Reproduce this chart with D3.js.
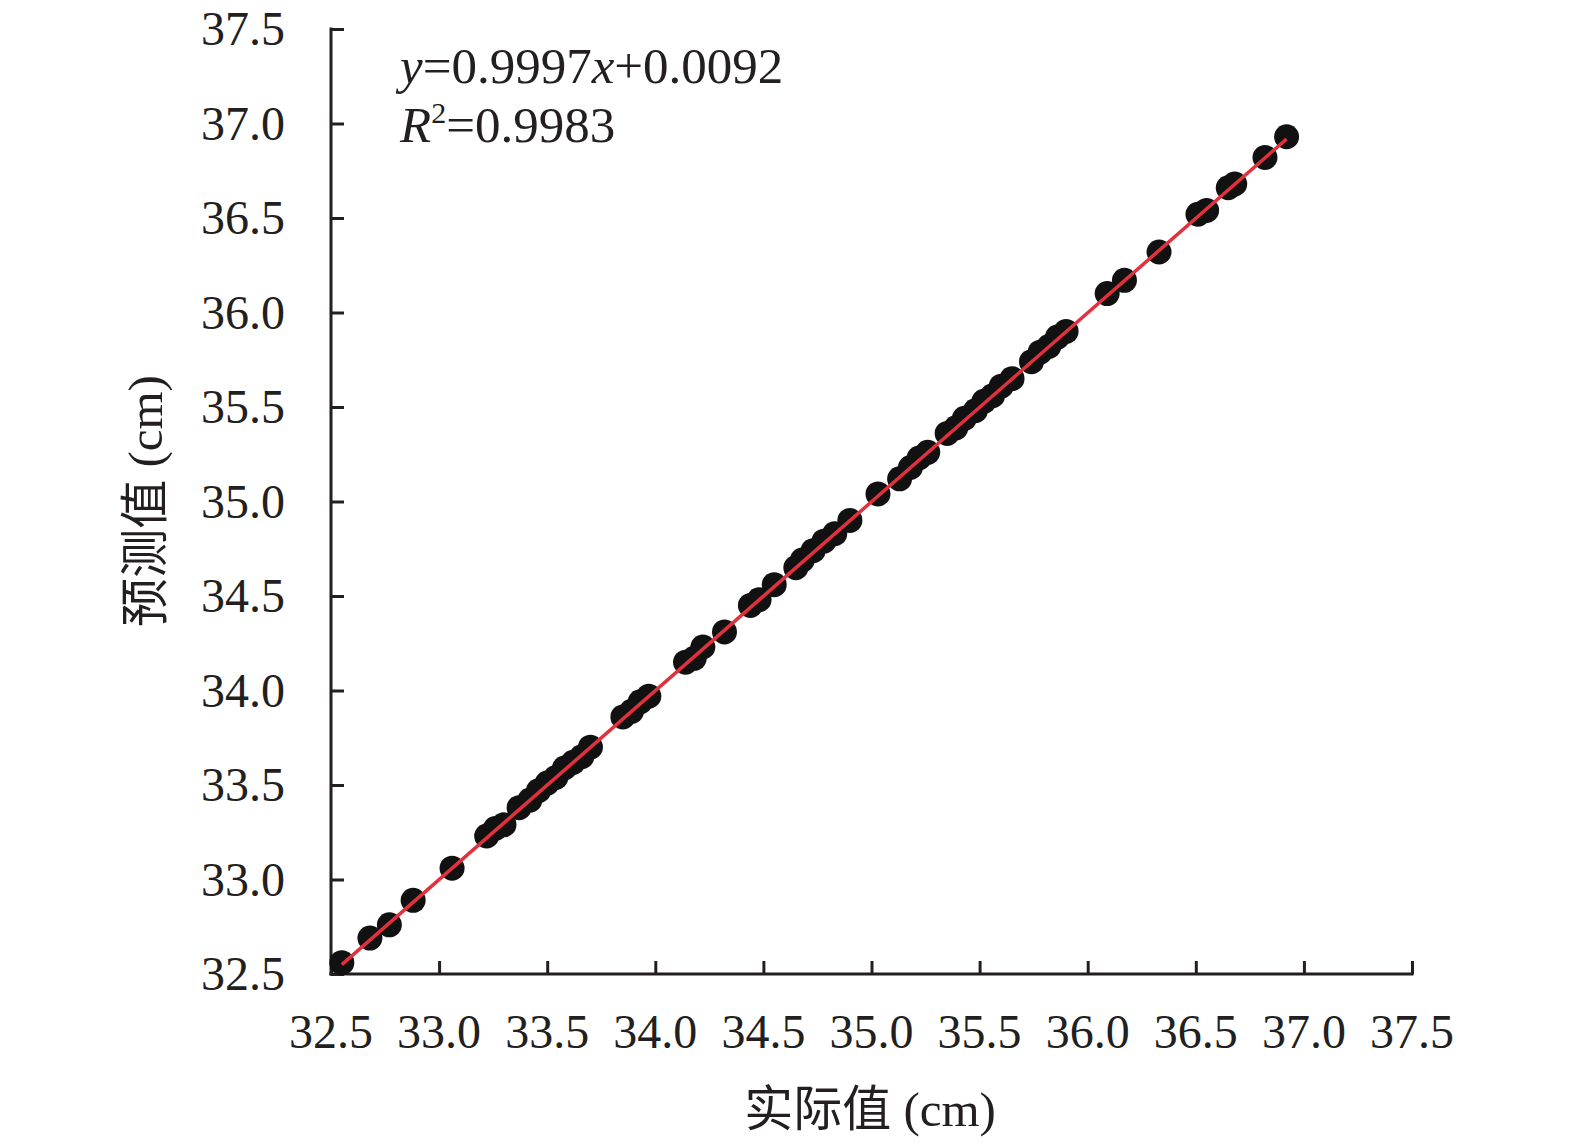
<!DOCTYPE html>
<html>
<head>
<meta charset="utf-8">
<script src="https://cdn.jsdelivr.net/npm/d3@7"></script>
<style>
  body { margin: 0; background: #fff; }
  text { font-family: "Times New Roman", "Liberation Serif", "Noto Sans CJK SC", serif; fill: #231f20; }
</style>
</head>
<body>
<div id="chart"></div>
<script>
const actual = [32.55, 32.68, 32.77, 32.88, 33.06, 33.22, 33.26, 33.30, 33.37, 33.42,
  33.46, 33.50, 33.54, 33.58, 33.62, 33.66, 33.70, 33.85, 33.89, 33.93,
  33.97, 34.14, 34.18, 34.22, 34.32, 34.44, 34.48, 34.55, 34.65, 34.68,
  34.73, 34.78, 34.83, 34.90, 35.03, 35.13, 35.18, 35.22, 35.26, 35.35,
  35.39, 35.43, 35.48, 35.52, 35.56, 35.60, 35.65, 35.74, 35.78, 35.82,
  35.86, 35.90, 36.09, 36.17, 36.33, 36.51, 36.55, 36.65, 36.68, 36.82, 36.92]
const predicted = [32.56, 32.69, 32.76, 32.89, 33.06, 33.23, 33.27, 33.29, 33.38, 33.42,
  33.47, 33.51, 33.54, 33.59, 33.62, 33.65, 33.70, 33.86, 33.89, 33.94,
  33.97, 34.15, 34.17, 34.23, 34.31, 34.45, 34.48, 34.56, 34.65, 34.69,
  34.74, 34.79, 34.83, 34.90, 35.04, 35.12, 35.18, 35.23, 35.26, 35.36,
  35.39, 35.44, 35.48, 35.53, 35.56, 35.61, 35.65, 35.74, 35.79, 35.82,
  35.87, 35.90, 36.10, 36.17, 36.32, 36.52, 36.54, 36.66, 36.68, 36.82, 36.93]
const ticks = [32.5, 33.0, 33.5, 34.0, 34.5, 35.0, 35.5, 36.0, 36.5, 37.0, 37.5]
const slope = 0.9997, intercept = 0.0092

const width = 1575, height = 1146
const margin = {left: 331, right: 163, top: 29, bottom: 172}

const svg = d3.select('#chart').append('svg')
  .attr('width', width)
  .attr('height', height)

const x = d3.scaleLinear().domain([32.5, 37.5]).range([margin.left, width - margin.right])
const y = d3.scaleLinear().domain([32.5, 37.5]).range([height - margin.bottom, margin.top])

// axes, ticks pointing inward
svg.append('g')
  .attr('transform', `translate(0,${y(32.5)})`)
  .call(d3.axisTop(x).tickValues(ticks).tickSize(13).tickFormat(''))
svg.append('g')
  .attr('transform', `translate(${x(32.5)},0)`)
  .call(d3.axisRight(y).tickValues(ticks).tickSize(13).tickFormat(''))

svg.selectAll('.domain').remove()
svg.selectAll('.tick line').attr('stroke', '#231f20').attr('stroke-width', 3)

svg.append('line')
  .attr('x1', x(32.5) - 1.5).attr('x2', x(37.5) + 1.5)
  .attr('y1', y(32.5)).attr('y2', y(32.5))
  .attr('stroke', '#231f20').attr('stroke-width', 3)
svg.append('line')
  .attr('x1', x(32.5)).attr('x2', x(32.5))
  .attr('y1', y(37.5) - 1.5).attr('y2', y(32.5) + 1.5)
  .attr('stroke', '#231f20').attr('stroke-width', 3)

// tick labels
svg.append('g').selectAll('text')
  .data(ticks)
  .enter()
  .append('text')
  .attr('x', d => x(d))
  .attr('y', 1048)
  .attr('text-anchor', 'middle')
  .attr('font-size', 48)
  .text(d => d.toFixed(1))

svg.append('g').selectAll('text')
  .data(ticks)
  .enter()
  .append('text')
  .attr('x', 285)
  .attr('y', d => y(d))
  .attr('dy', '0.34em')
  .attr('text-anchor', 'end')
  .attr('font-size', 48)
  .text(d => d.toFixed(1))

// axis titles
svg.append('text')
  .attr('x', 870)
  .attr('y', 1126)
  .attr('text-anchor', 'middle')
  .attr('font-size', 49)
  .text('实际值 (cm)')

svg.append('text')
  .attr('transform', 'translate(162,501) rotate(-90)')
  .attr('text-anchor', 'middle')
  .attr('font-size', 49)
  .text('预测值 (cm)')

// points
const pts = actual.map((a, i) => ({a: a, p: predicted[i]}))
svg.append('g')
  .selectAll('circle')
  .data(pts)
  .enter()
  .append('circle')
  .attr('cx', d => x(d.a))
  .attr('cy', d => y(d.p))
  .attr('r', 12.5)
  .attr('fill', '#111')

// regression line
const x0 = d3.min(actual), x1 = d3.max(actual)
svg.append('line')
  .attr('x1', x(x0)).attr('y1', y(slope * x0 + intercept))
  .attr('x2', x(x1)).attr('y2', y(slope * x1 + intercept))
  .attr('stroke', '#e0313c')
  .attr('stroke-width', 3.5)

// equation
const eq = svg.append('text')
  .attr('x', 400)
  .attr('y', 83)
  .attr('font-size', 51)
eq.append('tspan').attr('font-style', 'italic').text('y')
eq.append('tspan').text('=0.9997')
eq.append('tspan').attr('font-style', 'italic').text('x')
eq.append('tspan').text('+0.0092')

const r2 = svg.append('text')
  .attr('x', 400)
  .attr('y', 142)
  .attr('font-size', 51)
r2.append('tspan').attr('font-style', 'italic').text('R')
r2.append('tspan').attr('font-size', 30).attr('dy', -19).text('2')
r2.append('tspan').attr('dy', 19).text('=0.9983')
</script>
</body>
</html>
